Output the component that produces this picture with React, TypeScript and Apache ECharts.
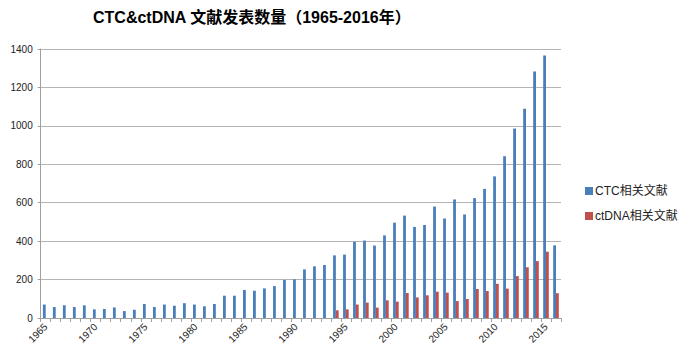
import React, { useEffect, useRef } from "react";
import * as echarts from "echarts";

const years: string[] = [];
for (let y = 1965; y <= 2016; y++) years.push(String(y));

const ctcValues = [
  70, 57, 66, 57, 66, 45, 47, 55, 36, 43,
  73, 57, 70, 64, 77, 70, 61, 73, 116, 116,
  146, 142, 154, 166, 198, 201, 253, 269, 276, 326,
  330, 397, 403, 377, 430, 496, 533, 474, 484, 580,
  518, 617, 539, 624, 672, 737, 842, 986, 1089, 1283,
  1366, 378,
];

const ctdnaValues: (number | null)[] = [
  null, null, null, null, null, null, null, null, null, null,
  null, null, null, null, null, null, null, null, null, null,
  null, null, null, null, null, null, null, null, null, 40,
  45, 70, 80, 54, 92, 85, 130, 107, 118, 137,
  132, 88, 99, 151, 140, 178, 153, 218, 264, 296,
  345, 129,
];

const yTicks = { min: 0, max: 1400, interval: 200 };

const seriesNames = ["CTC相关文献", "ctDNA相关文献"];
const titleText = "CTC&ctDNA 文献发表数量（1965-2016年）";

const FONT = "'Liberation Sans', Arial, 'Noto Sans CJK SC', sans-serif";

export default function App() {
  const ref = useRef<HTMLDivElement>(null);
  useEffect(() => {
    if (!ref.current) return;
    const chart = echarts.init(ref.current, undefined, { renderer: "svg" });
    chart.setOption({
      animation: false,
      backgroundColor: "#ffffff",
      textStyle: { fontFamily: FONT },
      title: {
        text: titleText,
        left: 88,
        top: 4,
        textStyle: { fontSize: 16, fontWeight: "bold", color: "#000", fontFamily: FONT },
      },
      legend: {
        orient: "vertical",
        left: 580,
        top: 180,
        itemWidth: 8,
        itemHeight: 8,
        itemGap: 13,
        icon: "rect",
        textStyle: { fontSize: 12, color: "#222", fontFamily: FONT, padding: [0, 0, 0, -3] },
        data: seriesNames,
      },
      grid: { left: 40.7, right: 134, top: 49, bottom: 38, containLabel: false },
      xAxis: {
        type: "category",
        data: years,
        boundaryGap: true,
        axisLine: { lineStyle: { color: "#a0a0a0", width: 1 } },
        axisTick: { show: true, interval: 0, length: 4, lineStyle: { color: "#a0a0a0" } },
        axisLabel: {
          interval: 4,
          rotate: 45,
          fontSize: 10,
          color: "#222",
          margin: 7,
          fontFamily: FONT,
        },
      },
      yAxis: {
        type: "value",
        min: yTicks.min,
        max: yTicks.max,
        interval: yTicks.interval,
        axisLine: { show: true, lineStyle: { color: "#a0a0a0", width: 1 } },
        axisTick: { show: true, length: 3, lineStyle: { color: "#a0a0a0" } },
        axisLabel: {
          fontSize: 10,
          color: "#222",
          margin: 8,
          fontFamily: FONT,
          formatter: (v: number) => String(v),
        },
        splitLine: { lineStyle: { color: "#b4b4b4", width: 1 } },
      },
      series: [
        {
          name: seriesNames[0],
          type: "bar",
          data: ctcValues,
          barWidth: 2.8,
          barGap: "0%",
          itemStyle: { color: "#4a7ebb" },
        },
        {
          name: seriesNames[1],
          type: "bar",
          data: ctdnaValues,
          barWidth: 2.8,
          barGap: "0%",
          itemStyle: { color: "#c0504d" },
        },
      ],
    });
    return () => chart.dispose();
  }, []);
  return (
    <div
      ref={ref}
      style={{ position: "fixed", left: 0, top: 0, width: 695, height: 356 }}
    />
  );
}
